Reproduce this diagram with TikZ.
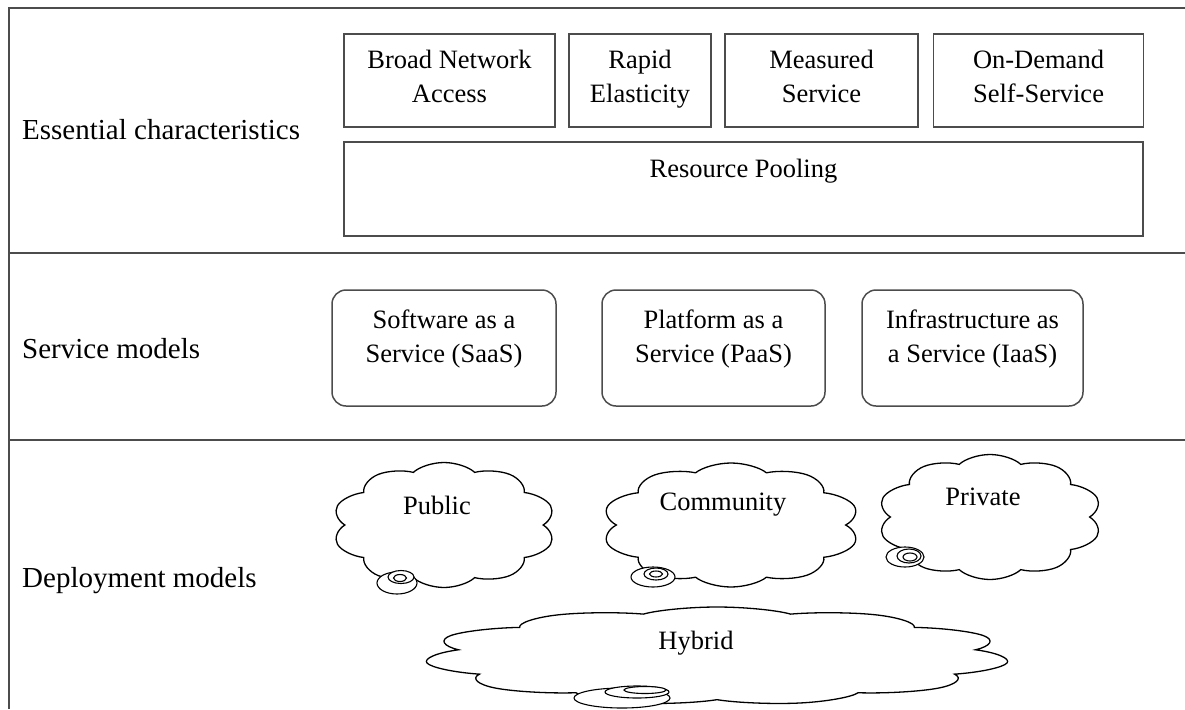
\documentclass[tikz,border=0pt]{standalone}
\usepackage{fontspec}
\setmainfont{Liberation Serif}
\usetikzlibrary{shapes.symbols}

\newcommand{\boxfont}{\fontsize{26.5}{34}\selectfont}
\newcommand{\headfont}{\fontsize{29}{34}\selectfont}

\begin{document}
\begin{tikzpicture}[x=1pt,y=-1pt]

      \tikzset{frame/.style={draw=black!70, line width=1.6pt},
               sqbox/.style={draw=black!70, line width=1.5pt, align=center, font=\boxfont, text height=52pt, text depth=9pt},
               rbox/.style={draw=black!70, line width=1.5pt, rounded corners=14pt},
               puff/.style={draw, cloud, cloud puffs=10, cloud puff arc=120, aspect=1, minimum size=100pt, line width=1.3pt, inner sep=0pt},
               bubble/.style={draw, line width=1.1pt, fill=white},
               heading/.style={anchor=base west, inner sep=0pt, font=\headfont},
               cloudtxt/.style={font=\boxfont}}
      \useasboundingbox (0,0) rectangle (1185,709);
%% Frame
      \draw[frame] (1185,8) -- (9,8) -- (9,709);
      \draw[frame] (9,253) -- (1185,253);
      \draw[frame] (9,440) -- (1185,440);
%% Row headings
      \node[heading] (essential) at (22,139) {Essential characteristics};
      \node[heading] (service) at (22,358) {Service models};
      \node[heading] (deploy) at (22,587) {Deployment models};
%% Essential characteristics
      \node[sqbox, minimum width=211pt, minimum height=93pt] (broad) at (449.5,80.5) {Broad Network\\Access};
      \node[sqbox, minimum width=142pt, minimum height=93pt] (rapid) at (640,80.5) {Rapid\\Elasticity};
      \node[sqbox, minimum width=193pt, minimum height=93pt] (measured) at (821.5,80.5) {Measured\\Service};
      \node[sqbox, minimum width=210pt, minimum height=93pt] (ondemand) at (1038.5,80.5) {On-Demand\\Self-Service};
      \node[sqbox, minimum width=799pt, minimum height=94pt,
            label={[font=\boxfont, yshift=18pt]center:Resource Pooling}] (pooling) at (743.5,189) {};
%% Service models
      \node[rbox, minimum width=224pt, minimum height=116pt,
            label={[font=\boxfont, align=center, yshift=9pt]center:{Software as a\\Service (SaaS)}}] (saas) at (444,348) {};
      \node[rbox, minimum width=223pt, minimum height=116pt,
            label={[font=\boxfont, align=center, yshift=9pt]center:{Platform as a\\Service (PaaS)}}] (paas) at (713.5,348) {};
      \node[rbox, minimum width=221pt, minimum height=116pt,
            label={[font=\boxfont, align=center, yshift=9pt]center:{Infrastructure as\\a Service (IaaS)}}] (iaas) at (972.5,348) {};
%% Deployment models
      \begin{scope}[shift={(444,525)}, xscale=2.24, yscale=1.25, transform shape]
        \node[puff] (public) at (0,0) {};
      \end{scope}
      \node[cloudtxt] (publictxt) at (437,505) {Public};
      \begin{scope}[shift={(731,525)}, xscale=2.59, yscale=1.24, transform shape]
        \node[puff] (community) at (0,0) {};
      \end{scope}
      \node[cloudtxt] (communitytxt) at (723,505) {Community};
      \begin{scope}[shift={(990,517)}, xscale=2.25, yscale=1.25, transform shape]
        \node[puff] (private) at (0,0) {};
      \end{scope}
      \node[cloudtxt] (privatetxt) at (983,497) {Private};
      \begin{scope}[shift={(717,656)}, xscale=5.86, yscale=0.98, transform shape]
        \node[puff, cloud puffs=11] (hybrid) at (0,0) {};
      \end{scope}
      \node[cloudtxt] (hybridtxt) at (696,643) {Hybrid};
%% Bubbles
      \draw[bubble] (397,583) ellipse [x radius=20pt, y radius=11pt];
      \draw[bubble] (401,577) ellipse [x radius=13pt, y radius=6.5pt];
      \draw[bubble] (400,578) ellipse [x radius=6.5pt, y radius=3.5pt];
      \draw[bubble] (653,577) ellipse [x radius=22pt, y radius=10pt];
      \draw[bubble] (656,574) ellipse [x radius=12pt, y radius=6pt];
      \draw[bubble] (656,574) ellipse [x radius=6.5pt, y radius=3pt];
      \draw[bubble] (905,557) ellipse [x radius=19pt, y radius=10pt];
      \draw[bubble] (909,556) ellipse [x radius=12pt, y radius=7pt];
      \draw[bubble] (910,557) ellipse [x radius=7pt, y radius=4pt];
      \draw[bubble] (622,698) ellipse [x radius=48pt, y radius=10pt];
      \draw[bubble] (637,692) ellipse [x radius=32pt, y radius=6pt];
      \draw[bubble] (645,690) ellipse [x radius=21pt, y radius=3.5pt];

\end{tikzpicture}
\end{document}
